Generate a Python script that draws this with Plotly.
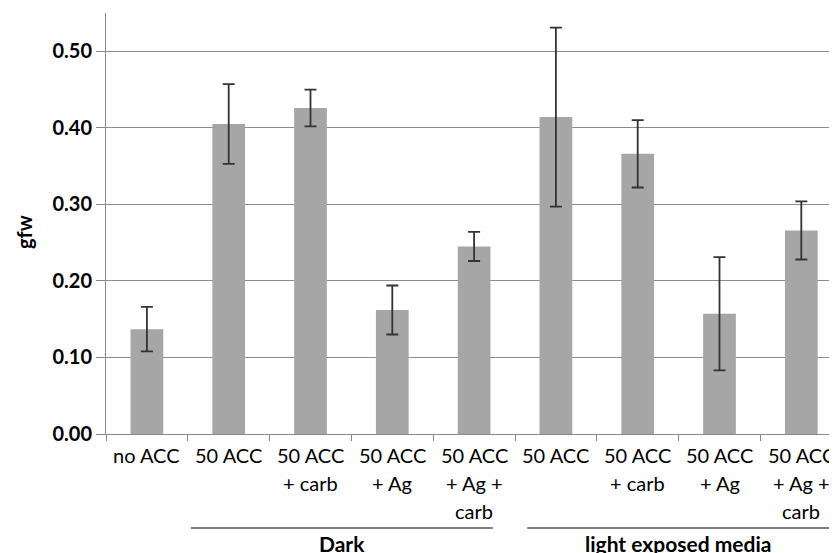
import plotly.graph_objects as go

categories = ["no ACC", "50 ACC", "50 ACC<br>+ carb", "50 ACC<br>+ Ag", "50 ACC<br>+ Ag +<br>carb",
              "50 ACC", "50 ACC<br>+ carb", "50 ACC<br>+ Ag", "50 ACC<br>+ Ag +<br>carb"]
values = [0.137, 0.405, 0.426, 0.162, 0.245, 0.414, 0.366, 0.157, 0.266]
errors = [0.029, 0.052, 0.024, 0.032, 0.019, 0.117, 0.044, 0.074, 0.038]
y_ticks = [0.0, 0.1, 0.2, 0.3, 0.4, 0.5]
y_ticktext = ["0.00", "0.10", "0.20", "0.30", "0.40", "0.50"]
group_names = ["Dark", "light exposed media"]
group_first = [1, 5]
group_last = [4, 8]

# layout (not data): how far each group's rule reaches past its first / last category
group_pad_left = [0.46, 0.35]
group_pad_right = [0.23, 0.34]

FONT = "Lato"
x = list(range(len(categories)))

# page has an 8px body margin; the figure is sized so that it fills the 837x553 window
OFF = 8
PLOT_L, PLOT_T, PLOT_B = 106, 13, 434
H_PLOT = PLOT_B - PLOT_T
W_PLOT = 837 - PLOT_L


def py(ypix):
    return (PLOT_B - ypix) / H_PLOT


def px(xpix):
    return (xpix - PLOT_L) / W_PLOT


fig = go.Figure()
fig.add_trace(go.Bar(
    x=x, y=values, width=0.4,
    marker=dict(color="#a6a6a6", line=dict(width=0)),
    error_y=dict(type="data", array=errors, visible=True, color="#333333", thickness=1.8, width=6),
    showlegend=False,
))

annotations = []
for i, cat in enumerate(categories):
    for j, line in enumerate(cat.split("<br>")):
        annotations.append(dict(
            x=i, y=py(455 + 28 * j), xref="x", yref="paper", text=line, showarrow=False,
            xanchor="center", yanchor="middle", font=dict(family=FONT, size=20, color="#000")))

shapes = []
for name, a, b, pl, pr in zip(group_names, group_first, group_last, group_pad_left, group_pad_right):
    x0, x1 = a - pl, b + pr
    shapes.append(dict(type="line", xref="x", yref="paper", x0=x0, x1=x1,
                       y0=py(528), y1=py(528), line=dict(color="#000", width=1.2)))
    annotations.append(dict(
        x=(x0 + x1) / 2, y=py(543), xref="x", yref="paper", text="<b>%s</b>" % name, showarrow=False,
        xanchor="center", yanchor="middle", font=dict(family=FONT, size=21, color="#000")))

annotations.append(dict(
    x=px(24), y=py(232), xref="paper", yref="paper", text="<b>gfw</b>", showarrow=False, textangle=-90,
    xanchor="center", yanchor="middle", font=dict(family=FONT, size=20, color="#000")))

fig.update_layout(
    width=837 - OFF, height=553 - OFF,
    margin=dict(l=PLOT_L - OFF, r=0, t=PLOT_T - OFF, b=553 - PLOT_B, pad=0),
    plot_bgcolor="white", paper_bgcolor="white",
    xaxis=dict(range=[-0.5, -0.5 + W_PLOT / 81.8], tickvals=[k - 0.5 for k in range(len(categories) + 1)],
               ticktext=[""] * (len(categories) + 1), ticks="outside", ticklen=6, tickcolor="#888",
               showgrid=False, showline=True, linecolor="#888", linewidth=1, zeroline=False, fixedrange=True),
    yaxis=dict(range=[0, 0.55], tickvals=y_ticks, ticktext=y_ticktext, ticks="outside", ticklen=9,
               tickcolor="#888", showgrid=True, gridcolor="#8c8c8c", gridwidth=1, showline=True,
               linecolor="#888", linewidth=1, zeroline=False,
               tickfont=dict(family=FONT, size=20, color="#000", weight="bold")),
    annotations=annotations, shapes=shapes,
)
fig.write_html("out.html")
